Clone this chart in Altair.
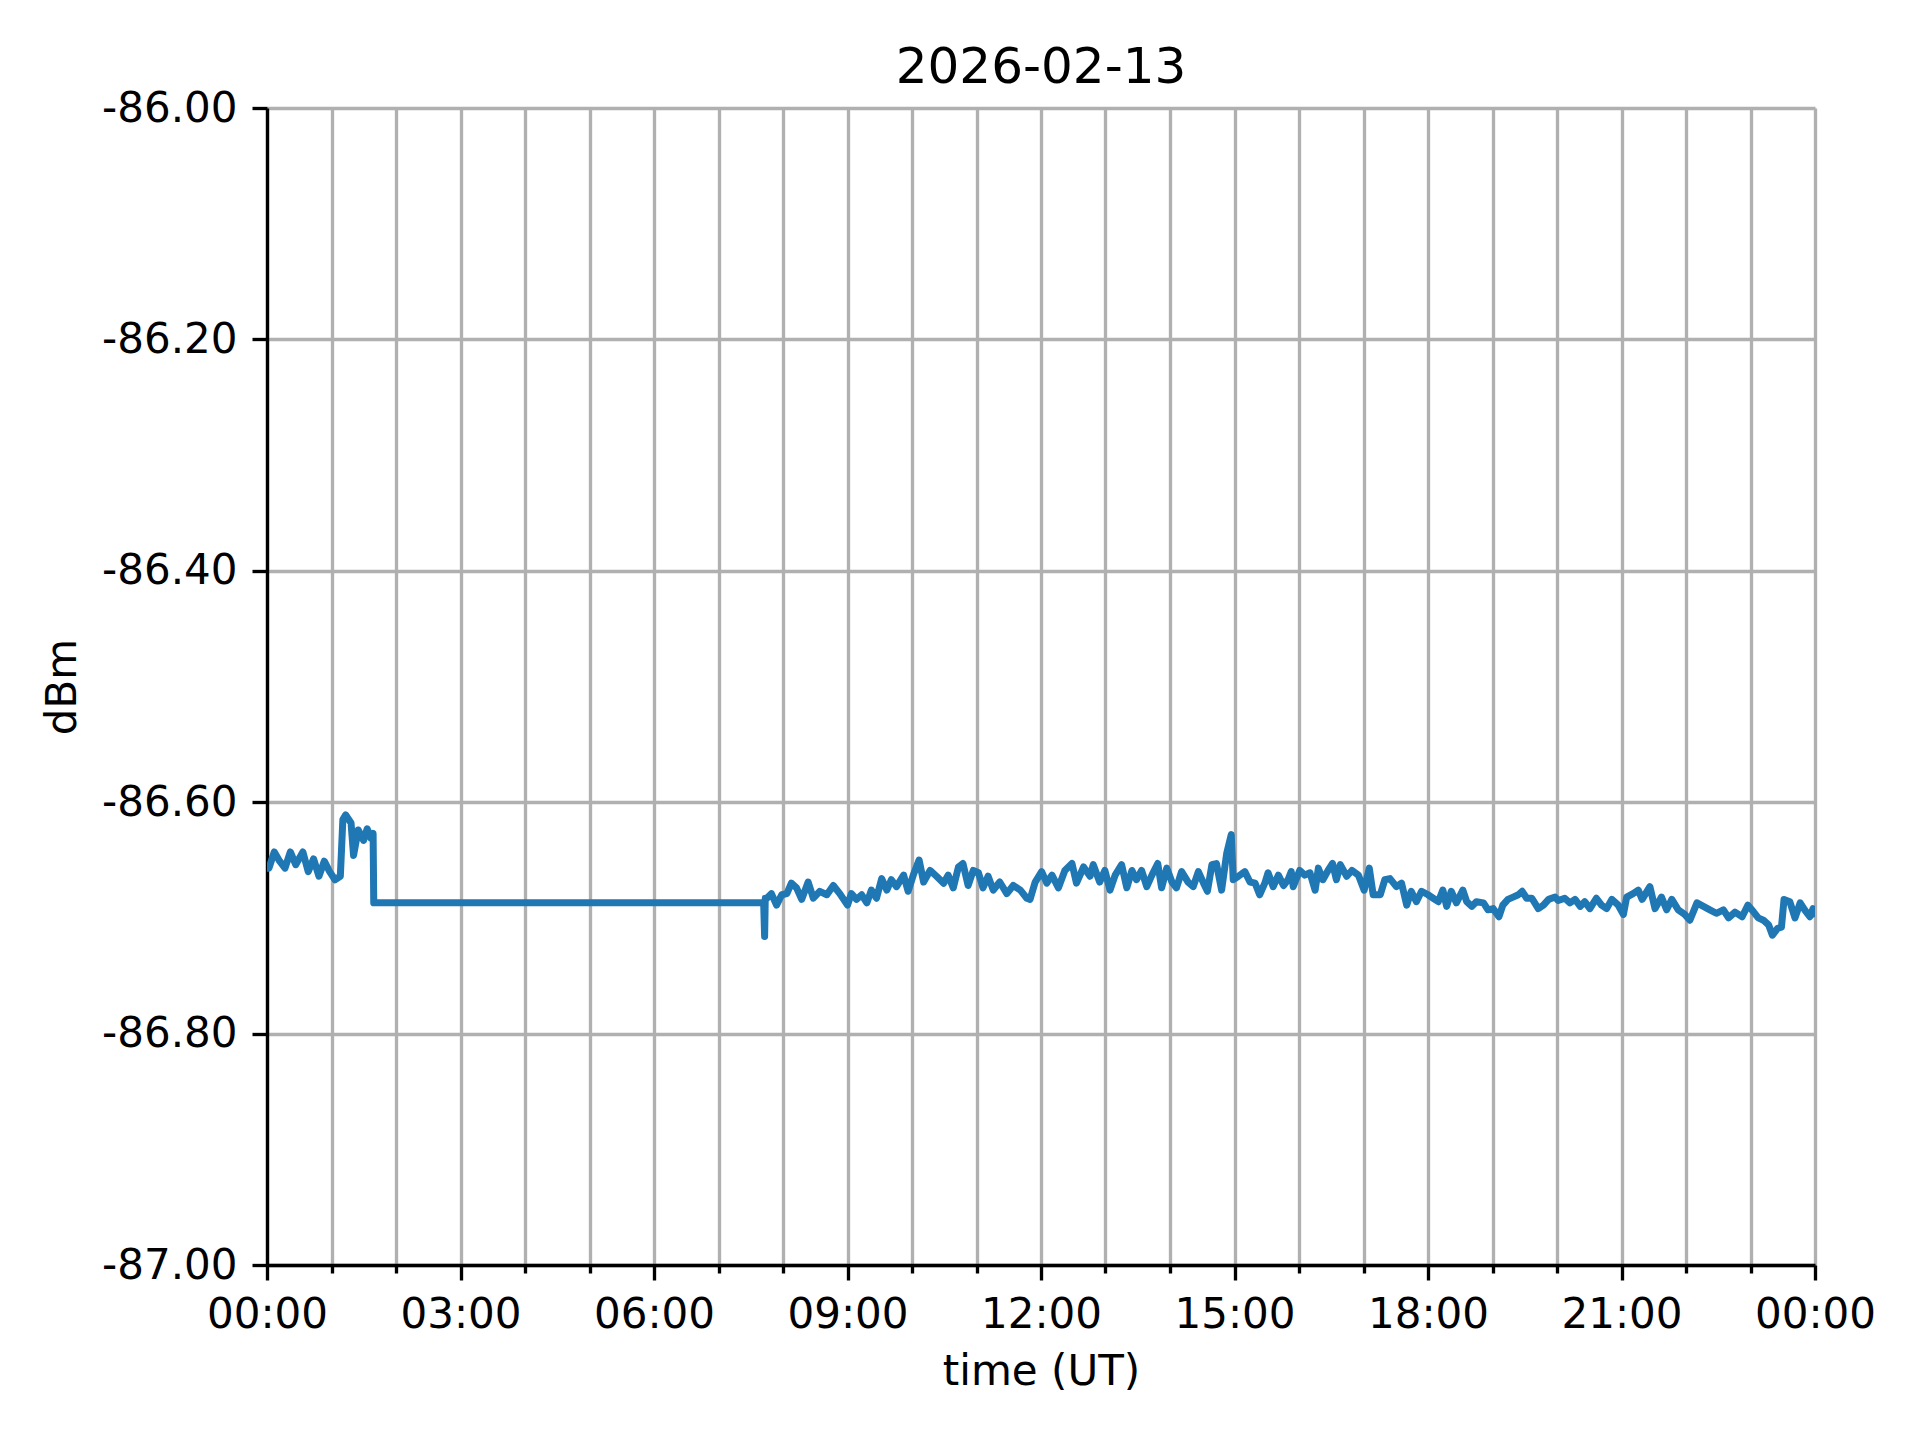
import altair as alt
import pandas as pd

hours = [
    0.00, 0.03, 0.113, 0.196, 0.279, 0.362, 0.445, 0.556, 0.639, 0.722, 0.805, 0.888, 0.971,
    1.054, 1.137, 1.176, 1.220, 1.303, 1.342, 1.414, 1.497, 1.553, 1.607, 1.645, 1.655,
    7.70, 7.715, 7.725,
    7.75, 7.82, 7.90, 7.98, 8.06, 8.13, 8.21, 8.29, 8.39, 8.47, 8.57, 8.68, 8.78, 8.88,
    9.00, 9.06, 9.14, 9.22, 9.30, 9.37, 9.45, 9.53, 9.61, 9.68, 9.76, 9.87, 9.94, 10.02,
    10.11, 10.18, 10.28, 10.38, 10.49, 10.56, 10.64, 10.72, 10.79, 10.87, 10.95, 11.03,
    11.10, 11.18, 11.26, 11.36, 11.47, 11.57, 11.68, 11.78, 11.83, 11.91, 12.01, 12.09,
    12.17, 12.27, 12.37, 12.48, 12.55, 12.66, 12.76, 12.81, 12.91, 12.99, 13.07, 13.15,
    13.25, 13.33, 13.41, 13.48, 13.56, 13.64, 13.72, 13.81, 13.87, 13.95, 14.03, 14.10,
    14.18, 14.28, 14.36, 14.44, 14.52, 14.58, 14.65, 14.72, 14.80, 14.88, 14.95, 14.98,
    15.06, 15.16, 15.24, 15.32, 15.39, 15.47, 15.52, 15.60, 15.68, 15.76, 15.83, 15.88,
    15.91, 16.01, 16.09, 16.17, 16.25, 16.30, 16.37, 16.45, 16.52, 16.58, 16.64, 16.74,
    16.82, 16.92, 17.01, 17.09, 17.15, 17.26, 17.33, 17.41, 17.51, 17.59, 17.67, 17.74,
    17.82, 17.90, 18.00, 18.08, 18.16, 18.23, 18.29, 18.36, 18.44, 18.54, 18.60, 18.68,
    18.75, 18.86, 18.93, 19.01, 19.10, 19.16, 19.24, 19.32, 19.40, 19.46, 19.53, 19.61,
    19.71, 19.79, 19.87, 19.97, 20.02, 20.12, 20.20, 20.28, 20.36, 20.43, 20.51, 20.61,
    20.69, 20.77, 20.85, 20.95, 21.03, 21.08, 21.18, 21.26, 21.32, 21.44, 21.52, 21.62,
    21.70, 21.78, 21.88, 21.98, 22.06, 22.17, 22.27, 22.37, 22.47, 22.58, 22.66, 22.76,
    22.87, 22.96, 23.05, 23.12, 23.20, 23.28, 23.34, 23.42, 23.48, 23.52, 23.61, 23.69,
    23.77, 23.84, 23.92, 23.97, 24.00,
]
dbm = [
    -86.657, -86.657, -86.643, -86.651, -86.657, -86.643, -86.654, -86.643, -86.660, -86.649, -86.664, -86.651, -86.660,
    -86.667, -86.664, -86.615, -86.611, -86.618, -86.646, -86.624, -86.633, -86.623, -86.631, -86.627, -86.687,
    -86.687, -86.716, -86.683,
    -86.683, -86.679, -86.689, -86.680, -86.679, -86.670, -86.674, -86.684, -86.669, -86.683, -86.677, -86.680, -86.672, -86.679,
    -86.689, -86.679, -86.684, -86.680, -86.687, -86.676, -86.683, -86.666, -86.676, -86.667, -86.673, -86.663, -86.677, -86.663,
    -86.650, -86.669, -86.659, -86.664, -86.670, -86.663, -86.674, -86.656, -86.653, -86.672, -86.659, -86.661,
    -86.674, -86.664, -86.676, -86.669, -86.679, -86.672, -86.676, -86.683, -86.684, -86.669, -86.660, -86.670,
    -86.663, -86.674, -86.659, -86.653, -86.670, -86.656, -86.664, -86.654, -86.669, -86.659, -86.676, -86.663,
    -86.654, -86.674, -86.659, -86.667, -86.659, -86.673, -86.663, -86.653, -86.674, -86.657, -86.669, -86.674,
    -86.660, -86.669, -86.673, -86.660, -86.670, -86.677, -86.654, -86.653, -86.676, -86.644, -86.628, -86.667,
    -86.664, -86.660, -86.669, -86.670, -86.680, -86.670, -86.661, -86.673, -86.663, -86.672, -86.667, -86.660,
    -86.673, -86.659, -86.663, -86.661, -86.676, -86.657, -86.667, -86.659, -86.653, -86.667, -86.654, -86.664,
    -86.659, -86.663, -86.676, -86.657, -86.680, -86.680, -86.667, -86.666, -86.673, -86.670, -86.689, -86.677,
    -86.686, -86.677, -86.680, -86.683, -86.686, -86.676, -86.690, -86.677, -86.687, -86.676, -86.686, -86.690,
    -86.686, -86.687, -86.693, -86.692, -86.699, -86.689, -86.684, -86.682, -86.680, -86.677, -86.683, -86.683,
    -86.692, -86.689, -86.684, -86.682, -86.685, -86.683, -86.687, -86.684, -86.690, -86.686, -86.692, -86.683,
    -86.689, -86.692, -86.684, -86.689, -86.697, -86.682, -86.679, -86.676, -86.684, -86.673, -86.692, -86.682,
    -86.693, -86.684, -86.693, -86.697, -86.702, -86.687, -86.690, -86.693, -86.696, -86.693, -86.700, -86.695,
    -86.699, -86.689, -86.695, -86.700, -86.702, -86.706, -86.715, -86.709, -86.708, -86.684, -86.686, -86.700,
    -86.687, -86.693, -86.699, -86.692, -86.696,
]

title_text = ["2026-02-13"]
x_tick_values = [0, 1, 2, 3, 4, 5, 6, 7, 8, 9, 10, 11, 12, 13, 14, 15, 16, 17, 18, 19, 20, 21, 22, 23, 24]
y_tick_values = [-87.0, -86.8, -86.6, -86.4, -86.2, -86.0]

df = pd.DataFrame({"hour": hours, "dbm": dbm, "order": list(range(len(hours)))})
title_df = pd.DataFrame({"t": title_text})

FONT = "DejaVu Sans"
LW = 3.33
W, H = 1548, 1157

x_axis = alt.Axis(
    values=x_tick_values,
    labelExpr="datum.value % 3 == 0 ? ((datum.value % 24 < 10 ? '0' : '') + (datum.value % 24) + ':00') : ''",
    title="time (UT)",
    titleFont=FONT, titleFontSize=42, titleFontWeight="normal", titleColor="black",
    titlePadding=16,
    labelFont=FONT, labelFontSize=42, labelColor="black", labelPadding=14,
    labelOverlap=False, labelFlush=False,
    tickColor="black", tickWidth=LW,
    tickSize={"condition": {"test": "datum.value % 3 == 0", "value": 15}, "value": 8},
    domainColor="black", domainWidth=LW,
    grid=True, gridColor="#b0b0b0", gridWidth=LW,
)

y_axis = alt.Axis(
    values=y_tick_values,
    labelExpr="replace(format(datum.value, '.2f'), '\u2212', '-')",
    title="dBm",
    titleFont=FONT, titleFontSize=42, titleFontWeight="normal", titleColor="black",
    titlePadding=17,
    labelFont=FONT, labelFontSize=42, labelColor="black", labelPadding=15,
    tickColor="black", tickWidth=LW, tickSize=15,
    domainColor="black", domainWidth=LW,
    grid=True, gridColor="#b0b0b0", gridWidth=LW,
)

line = (
    alt.Chart(df)
    .mark_line(color="#1f77b4", strokeWidth=7, strokeJoin="round", strokeCap="square", clip=True)
    .encode(
        x=alt.X("hour:Q", scale=alt.Scale(domain=[0, 24], nice=False, zero=False), axis=x_axis),
        y=alt.Y("dbm:Q", scale=alt.Scale(domain=[-87, -86], nice=False, zero=False), axis=y_axis),
        order="order:Q",
    )
)

title = (
    alt.Chart(title_df)
    .mark_text(font=FONT, fontSize=50, color="black", align="center", baseline="alphabetic", clip=False)
    .encode(x=alt.value(W / 2), y=alt.value(-25), text="t:N")
)

chart = (
    alt.layer(line, title)
    .properties(
        width=W,
        height=H,
        autosize=alt.AutoSizeParams(type="none"),
        padding={"left": 259, "top": 100, "right": 90, "bottom": 160},
    )
    .configure_view(stroke="black", strokeWidth=LW)
    .configure(background="white")
)

chart.save("out.html", embed_options={"renderer": "svg", "actions": False})
